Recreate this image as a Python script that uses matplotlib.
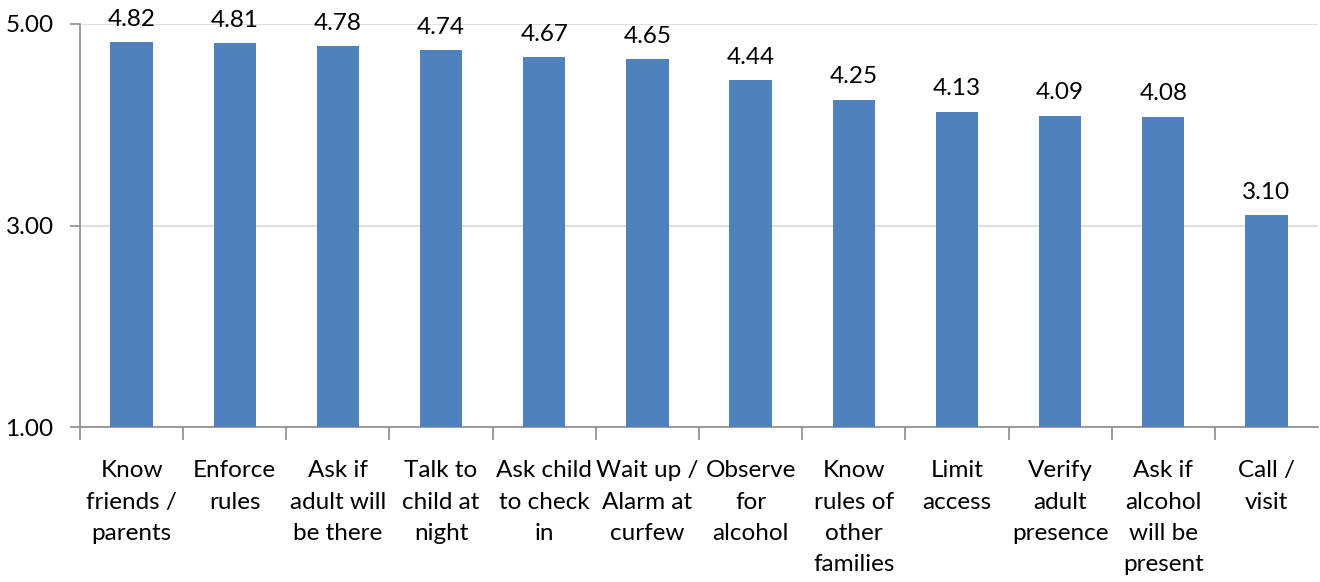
import matplotlib
matplotlib.use("Agg")
import matplotlib.pyplot as plt

categories = ["Know\nfriends /\nparents", "Enforce\nrules", "Ask if\nadult will\nbe there",
              "Talk to\nchild at\nnight", "Ask child\nto check\nin", "Wait up /\nAlarm at\ncurfew",
              "Observe\nfor\nalcohol", "Know\nrules of\nother\nfamilies", "Limit\naccess",
              "Verify\nadult\npresence", "Ask if\nalcohol\nwill be\npresent", "Call /\nvisit"]
values = [4.82, 4.81, 4.78, 4.74, 4.67, 4.65, 4.44, 4.25, 4.13, 4.09, 4.08, 3.10]
yticks = [1.0, 3.0, 5.0]

plt.rcParams['font.family'] = ['Lato', 'DejaVu Sans']
FS = 17.5

fig = plt.figure(figsize=(13.2, 5.82), dpi=100)
ax = fig.add_axes([80/1320, 1-427/582, 1238/1320, (427-24)/582])

x = list(range(len(values)))
ax.bar(x, [v - 1 for v in values], bottom=1, width=0.41, color="#4F81BD", zorder=3)
for xi, v in zip(x, values):
    ax.annotate(f"{v:.2f}", (xi, v), xytext=(0, 9), textcoords="offset points",
                ha="center", va="bottom", fontsize=FS, color="#000000")

ax.set_xlim(-0.5, len(values) - 0.5)
ax.set_ylim(1, 5)
ax.set_yticks(yticks)
ax.set_yticklabels([f"{t:.2f}" for t in yticks], fontsize=FS)
ax.yaxis.grid(True, color="#D9D9D9", linewidth=1.2, zorder=0)
ax.set_axisbelow(True)

ax.set_xticks([i + 0.5 for i in range(-1, len(values) - 1)], minor=False)
ax.set_xticklabels([])
ax.tick_params(axis='x', which='major', length=9, color="#8C8C8C", width=1.2, direction='out')
ax.set_xticks(x, minor=True)
ax.set_xticklabels(categories, minor=True, fontsize=FS, linespacing=1.6, va="top")
ax.tick_params(axis='x', which='minor', length=0, pad=24)
ax.tick_params(axis='y', length=7, color="#8C8C8C", width=1.2, pad=12)

for s in ["top", "right"]:
    ax.spines[s].set_visible(False)
for s in ["left", "bottom"]:
    ax.spines[s].set_color("#8C8C8C")
    ax.spines[s].set_linewidth(1.2)

fig.savefig("out.png", dpi=100)
